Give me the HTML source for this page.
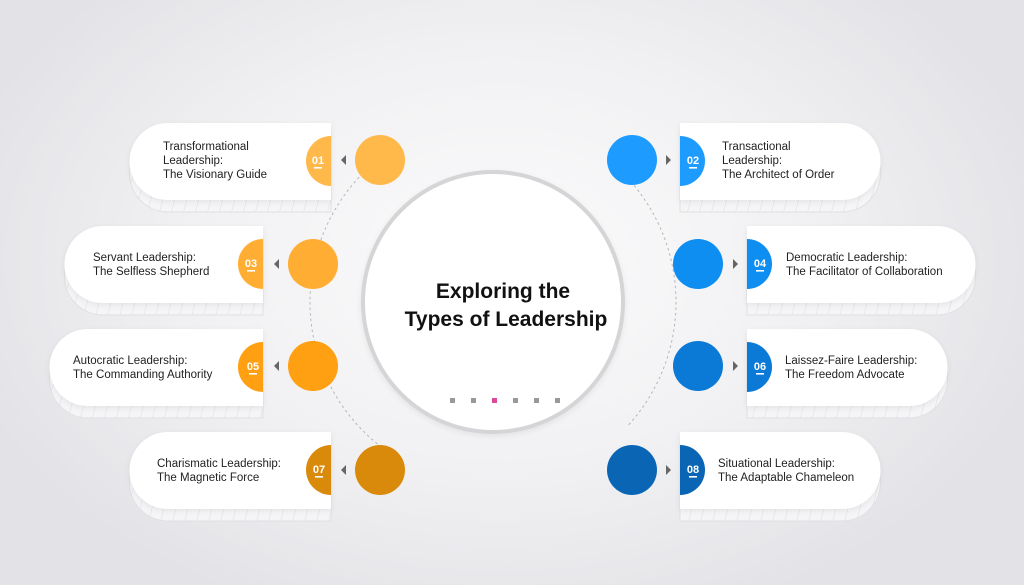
<!DOCTYPE html>
<html><head><meta charset="utf-8"><style>
html,body{margin:0;padding:0;width:1024px;height:585px;overflow:hidden;}
body{background:radial-gradient(ellipse 560px 380px at 500px 260px,#fbfbfc 0%,#f1f1f3 55%,#e3e3e7 100%);}
svg{position:absolute;left:0;top:0;}
text{font-family:"Liberation Sans",sans-serif;}
.t{font-size:11.5px;fill:#222;}
.n{font-size:11px;fill:#fff;font-weight:bold;}
</style></head><body>
<svg width="1024" height="585" viewBox="0 0 1024 585">
<defs>
<pattern id="hl" width="12" height="14" patternUnits="userSpaceOnUse" patternTransform="skewX(-15)">
<rect width="12" height="14" fill="#f5f5f7"/><line x1="0" y1="0" x2="0" y2="14" stroke="#dcdce0" stroke-width="1"/></pattern>
<filter id="sh" x="-20%" y="-20%" width="140%" height="160%"><feDropShadow dx="0" dy="2" stdDeviation="3" flood-color="#000" flood-opacity="0.07"/></filter>
<clipPath id="cp"><rect x="0" y="0" width="385" height="585"/><rect x="627" y="0" width="400" height="585"/></clipPath>
</defs>
<!-- dashed ring -->
<circle cx="493" cy="302" r="183" fill="none" stroke="#b5b5b9" stroke-width="1" stroke-dasharray="2.5 3" clip-path="url(#cp)"/>
<!-- center -->
<circle cx="493" cy="302" r="130" fill="#fff" stroke="#d5d5d7" stroke-width="4" filter="url(#sh)"/>
<text x="503" y="298" text-anchor="middle" style="font-size:21px;font-weight:bold;fill:#111">Exploring the</text>
<text x="506" y="326" text-anchor="middle" style="font-size:21px;font-weight:bold;fill:#111">Types of Leadership</text>
<g fill="#999"><rect x="450" y="398" width="5" height="5"/><rect x="471" y="398" width="5" height="5"/><rect x="513" y="398" width="5" height="5"/><rect x="534" y="398" width="5" height="5"/><rect x="555" y="398" width="5" height="5"/></g>
<rect x="492" y="398" width="5" height="5" fill="#e0489a"/>

<!-- LEFT CARDS -->
<g>
<path d="M168,135 H331 V212 H168 A38.5,38.5 0 0 1 168,135Z" fill="url(#hl)" stroke="#e0e0e3"/>
<path d="M168,123 H331 V200 H168 A38.5,38.5 0 0 1 168,123Z" fill="#fff" filter="url(#sh)"/>
<path d="M331,136 A25,25 0 0 0 331,186Z" fill="#ffb84a"/>
<text class="n" x="318" y="164" text-anchor="middle">01</text><rect x="314" y="167" width="8" height="1.6" fill="#fff"/>
<path d="M346,155 L341,160 L346,165Z" fill="#666"/>
<circle cx="380" cy="160" r="25" fill="#ffb84a"/>
<text class="t" x="163" y="150">Transformational</text><text class="t" x="163" y="164">Leadership:</text><text class="t" x="163" y="178">The Visionary Guide</text>
</g>
<g>
<path d="M103,238 H263 V315 H103 A38.5,38.5 0 0 1 103,238Z" fill="url(#hl)" stroke="#e0e0e3"/>
<path d="M103,226 H263 V303 H103 A38.5,38.5 0 0 1 103,226Z" fill="#fff" filter="url(#sh)"/>
<path d="M263,239 A25,25 0 0 0 263,289Z" fill="#ffad33"/>
<text class="n" x="251" y="267" text-anchor="middle">03</text><rect x="247" y="270" width="8" height="1.6" fill="#fff"/>
<path d="M279,259 L274,264 L279,269Z" fill="#666"/>
<circle cx="313" cy="264" r="25" fill="#ffad33"/>
<text class="t" x="93" y="261">Servant Leadership:</text><text class="t" x="93" y="275">The Selfless Shepherd</text>
</g>
<g>
<path d="M88,341 H263 V418 H88 A38.5,38.5 0 0 1 88,341Z" fill="url(#hl)" stroke="#e0e0e3"/>
<path d="M88,329 H263 V406 H88 A38.5,38.5 0 0 1 88,329Z" fill="#fff" filter="url(#sh)"/>
<path d="M263,342 A25,25 0 0 0 263,392Z" fill="#ff9f12"/>
<text class="n" x="253" y="370" text-anchor="middle">05</text><rect x="249" y="373" width="8" height="1.6" fill="#fff"/>
<path d="M279,361 L274,366 L279,371Z" fill="#666"/>
<circle cx="313" cy="366" r="25" fill="#ff9f12"/>
<text class="t" x="73" y="364">Autocratic Leadership:</text><text class="t" x="73" y="378">The Commanding Authority</text>
</g>
<g>
<path d="M168,444 H331 V521 H168 A38.5,38.5 0 0 1 168,444Z" fill="url(#hl)" stroke="#e0e0e3"/>
<path d="M168,432 H331 V509 H168 A38.5,38.5 0 0 1 168,432Z" fill="#fff" filter="url(#sh)"/>
<path d="M331,445 A25,25 0 0 0 331,495Z" fill="#d98a0b"/>
<text class="n" x="319" y="473" text-anchor="middle">07</text><rect x="315" y="476" width="8" height="1.6" fill="#fff"/>
<path d="M346,465 L341,470 L346,475Z" fill="#666"/>
<circle cx="380" cy="470" r="25" fill="#d98a0b"/>
<text class="t" x="157" y="467">Charismatic Leadership:</text><text class="t" x="157" y="481">The Magnetic Force</text>
</g>

<!-- RIGHT CARDS -->
<g>
<path d="M680,135 H842 A38.5,38.5 0 0 1 842,212 H680Z" fill="url(#hl)" stroke="#e0e0e3"/>
<path d="M680,123 H842 A38.5,38.5 0 0 1 842,200 H680Z" fill="#fff" filter="url(#sh)"/>
<path d="M680,136 A25,25 0 0 1 680,186Z" fill="#1e9bff"/>
<text class="n" x="693" y="164" text-anchor="middle">02</text><rect x="689" y="167" width="8" height="1.6" fill="#fff"/>
<path d="M666,155 L671,160 L666,165Z" fill="#666"/>
<circle cx="632" cy="160" r="25" fill="#1e9bff"/>
<text class="t" x="722" y="150">Transactional</text><text class="t" x="722" y="164">Leadership:</text><text class="t" x="722" y="178">The Architect of Order</text>
</g>
<g>
<path d="M747,238 H937 A38.5,38.5 0 0 1 937,315 H747Z" fill="url(#hl)" stroke="#e0e0e3"/>
<path d="M747,226 H937 A38.5,38.5 0 0 1 937,303 H747Z" fill="#fff" filter="url(#sh)"/>
<path d="M747,239 A25,25 0 0 1 747,289Z" fill="#0d8ef0"/>
<text class="n" x="760" y="267" text-anchor="middle">04</text><rect x="756" y="270" width="8" height="1.6" fill="#fff"/>
<path d="M733,259 L738,264 L733,269Z" fill="#666"/>
<circle cx="698" cy="264" r="25" fill="#0d8ef0"/>
<text class="t" x="786" y="261">Democratic Leadership:</text><text class="t" x="786" y="275">The Facilitator of Collaboration</text>
</g>
<g>
<path d="M747,341 H909 A38.5,38.5 0 0 1 909,418 H747Z" fill="url(#hl)" stroke="#e0e0e3"/>
<path d="M747,329 H909 A38.5,38.5 0 0 1 909,406 H747Z" fill="#fff" filter="url(#sh)"/>
<path d="M747,342 A25,25 0 0 1 747,392Z" fill="#0b7ad6"/>
<text class="n" x="760" y="370" text-anchor="middle">06</text><rect x="756" y="373" width="8" height="1.6" fill="#fff"/>
<path d="M733,361 L738,366 L733,371Z" fill="#666"/>
<circle cx="698" cy="366" r="25" fill="#0b7ad6"/>
<text class="t" x="785" y="364">Laissez-Faire Leadership:</text><text class="t" x="785" y="378">The Freedom Advocate</text>
</g>
<g>
<path d="M680,444 H842 A38.5,38.5 0 0 1 842,521 H680Z" fill="url(#hl)" stroke="#e0e0e3"/>
<path d="M680,432 H842 A38.5,38.5 0 0 1 842,509 H680Z" fill="#fff" filter="url(#sh)"/>
<path d="M680,445 A25,25 0 0 1 680,495Z" fill="#0a66b4"/>
<text class="n" x="693" y="473" text-anchor="middle">08</text><rect x="689" y="476" width="8" height="1.6" fill="#fff"/>
<path d="M666,465 L671,470 L666,475Z" fill="#666"/>
<circle cx="632" cy="470" r="25" fill="#0a66b4"/>
<text class="t" x="718" y="467">Situational Leadership:</text><text class="t" x="718" y="481">The Adaptable Chameleon</text>
</g>
</svg>
</body></html>
